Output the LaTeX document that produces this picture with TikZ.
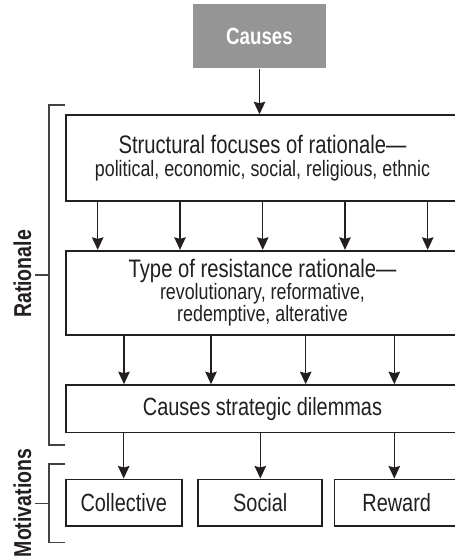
\documentclass[tikz,border=0pt]{standalone}
\usepackage{fontspec}
\setmainfont[FakeStretch=0.8]{Liberation Sans}
\usetikzlibrary{arrows.meta}
\definecolor{ink}{HTML}{231F20}
\definecolor{causegray}{HTML}{959595}
\tikzset{
  box/.style={draw=ink, line width=1.7pt, fill=white, inner sep=0pt, align=center, text=ink, anchor=center},
  arr/.style={draw=ink, line width=1.5pt, -{Stealth[length=12.5pt,width=11.5pt,inset=1.5pt]}},
  brace/.style={draw=ink!85, line width=1.2pt},
  side/.style={font=\bfseries\fontsize{24.4}{24}\selectfont, text=ink, rotate=90, inner sep=0pt},
  big/.style={font=\fontsize{24.9}{26}\selectfont},
}
\newcommand{\headline}[1]{{\fontsize{25.3}{22}\selectfont #1}}
\newcommand{\subline}[1]{{\fontsize{22.3}{22}\selectfont #1}}
\begin{document}
\begin{tikzpicture}[x=1pt, y=-1pt]
\useasboundingbox (0,0) rectangle (455,560);
\clip (0,0) rectangle (455,560);

% top cause box
\node[box, draw=none, fill=causegray, text=white, minimum width=133pt, minimum height=64pt,
      font=\bfseries\fontsize{23.4}{23}\selectfont] (causes) at (259.5,36) {Causes};

% rationale boxes (right side runs past the edge)
\node[box, minimum width=393pt, minimum height=85.7pt, font=\fontsize{22}{23.4}\selectfont] (focus) at (262.5,158)
  {\headline{Structural focuses of rationale---}\\\subline{political, economic, social, religious, ethnic}};
\node[box, minimum width=393pt, minimum height=84.6pt, font=\fontsize{22}{22}\selectfont] (type) at (262.5,293)
  {\headline{Type of resistance rationale---}\\\subline{revolutionary, reformative,}\\\subline{redemptive, alterative}};
\node[box, minimum width=393pt, minimum height=47.3pt, big] (dilem) at (262.5,408.7)
  {Causes strategic dilemmas};

% motivation boxes
\node[box, minimum width=116pt, minimum height=46.7pt, big] (coll) at (123.7,502.7) {Collective};
\node[box, minimum width=124pt, minimum height=46.7pt, big] (soc) at (260.3,502.7) {Social};
\node[box, minimum width=124.7pt, minimum height=46.7pt, big] (rew) at (396.7,502.7) {Reward};

% connectors
\draw[arr] (causes.south) -- (causes.south |- focus.north);
\foreach \x in {97.7,180,262.7,345,427.7}
  \draw[arr] (focus.south -| \x,0) -- (type.north -| \x,0);
\foreach \x in {124,211,305.7,394.3}
  \draw[arr] (type.south -| \x,0) -- (dilem.north -| \x,0);
\draw[arr] (dilem.south -| coll.north) -- (coll.north);
\draw[arr] (dilem.south -| soc.north) -- (soc.north);
\draw[arr] (dilem.south -| 394.3,0) -- (rew.north -| 394.3,0);

% side brackets
\coordinate (rtop) at (49,105);
\coordinate (rbot) at (49,445);
\coordinate (rmid) at (49,275);
\draw[brace] (65,105) -- (rtop) -- (rbot) -- (65,445);
\draw[brace] (rmid) -- (35,275);
\node[side] (rlab) at (22.5,274) {Rationale};

\coordinate (mtop) at (49,464);
\coordinate (mbot) at (49,542.7);
\coordinate (mmid) at (49,503.3);
\draw[brace] (65,464) -- (mtop) -- (mbot) -- (65,542.7);
\draw[brace] (mmid) -- (35,503.3);
\node[side] (mlab) at (22.5,503) {Motivations};
\end{tikzpicture}
\end{document}
